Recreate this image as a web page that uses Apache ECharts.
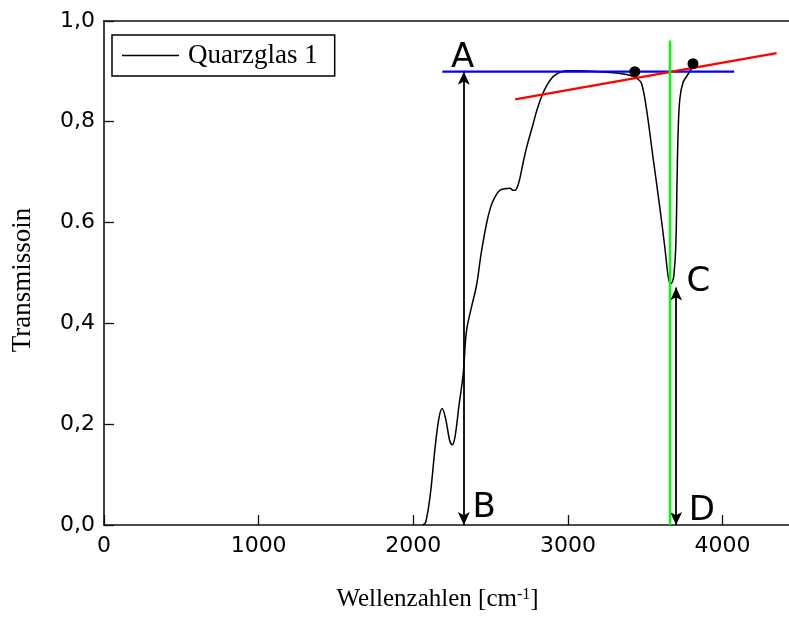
<!DOCTYPE html>
<html>
<head>
<meta charset="utf-8">
<script src="https://cdn.jsdelivr.net/npm/echarts@6/dist/echarts.min.js"></script>
<style>
html,body{margin:0;padding:0;background:#fff;}
#chart{width:789px;height:617px;}
</style>
</head>
<body>
<div id="chart"></div>
<script>
// ---- data ----
const xTickLabels = ['0', '1000', '2000', '3000', '4000'];
const yTickLabels = ['0,0', '0,2', '0,4', '0.6', '0,8', '1,0'];

const wavenumbers = [2060, 2080, 2110, 2140, 2165, 2187, 2210, 2235, 2252, 2270, 2295, 2323, 2344, 2375, 2409, 2440, 2474, 2500, 2527, 2560, 2592, 2625, 2645, 2660, 2675, 2690, 2710, 2730, 2750, 2775, 2797, 2830, 2862, 2895, 2926, 2960, 2991, 3050, 3150, 3250, 3350, 3420, 3450, 3476, 3508, 3551, 3594, 3626, 3648, 3663, 3675, 3685, 3698, 3706, 3713, 3724, 3745, 3777, 3805];
const transmission = [0, 0.005, 0.06, 0.15, 0.21, 0.231, 0.21, 0.168, 0.159, 0.175, 0.235, 0.30, 0.384, 0.43, 0.475, 0.54, 0.598, 0.63, 0.650, 0.664, 0.667, 0.668, 0.664, 0.664, 0.672, 0.688, 0.718, 0.745, 0.768, 0.795, 0.820, 0.85, 0.871, 0.886, 0.894, 0.899, 0.901, 0.901, 0.900, 0.898, 0.895, 0.890, 0.885, 0.876, 0.826, 0.728, 0.631, 0.553, 0.494, 0.478, 0.482, 0.494, 0.553, 0.683, 0.780, 0.845, 0.878, 0.894, 0.908];

const blueX = [2188, 4075];
const blueY = [0.899, 0.899];
const redX = [2659, 4350];
const redY = [0.844, 0.936];
const greenX = [3660, 3660];
const greenY = [0, 0.961];
const dotX = [3433, 3809];
const dotY = [0.899, 0.915];

const arrowABx = 2327, arrowABy = [0, 0.899];
const arrowCDx = 3700, arrowCDy = [0, 0.471];

const letterText = ['A', 'B', 'C', 'D'];
const letterX = [2319, 2458, 3844, 3866];
const letterY = [0.926, 0.034, 0.481, 0.028];

const zip = (a, b) => a.map((v, i) => [v, b[i]]);

const chart = echarts.init(document.getElementById('chart'), null, {renderer: 'canvas'});
const axisColor = '#111';
const option = {
  animation: false,
  grid: {left: 104, right: 0, top: 20.8, bottom: 83.7, containLabel: false},
  legend: {
    left: 112, top: 35,
    data: ['Quarzglas 1'],
    icon: 'rect', itemWidth: 57, itemHeight: 1.3,
    itemStyle: {color: '#000'},
    padding: [7, 17, 7, 10],
    borderColor: '#000', borderWidth: 1.5, borderRadius: 0,
    textStyle: {fontFamily: 'Liberation Serif', fontSize: 27, color: '#000', padding: [0, 0, 0, 4]}
  },
  xAxis: [{
    type: 'value', min: 0, max: 4430, interval: 1000,
    position: 'bottom',
    splitLine: {show: false},
    axisLine: {show: true, lineStyle: {color: axisColor, width: 1.6}},
    axisTick: {show: true, inside: true, length: 10, lineStyle: {color: axisColor, width: 1.3}},
    axisLabel: {
      showMaxLabel: false,
      fontFamily: 'DejaVu Sans', fontSize: 22, color: '#000', margin: 10,
      formatter: v => { const i = Math.round(v / 1000); return (v % 1000 === 0 && xTickLabels[i] !== undefined) ? xTickLabels[i] : ''; }
    },
    name: 'Wellenzahlen [cm{sup|-1}]',
    nameLocation: 'middle', nameGap: 62,
    nameTextStyle: {
      fontFamily: 'Liberation Serif', fontSize: 25, color: '#000',
      padding: [0, 18, 0, 0],
      rich: {sup: {fontFamily: 'Liberation Serif', fontSize: 16, verticalAlign: 'top', lineHeight: 14, color: '#000'}}
    }
  }, {
    type: 'value', min: 0, max: 4430, position: 'top',
    axisLine: {show: true, lineStyle: {color: axisColor, width: 1.6}},
    axisTick: {show: false}, axisLabel: {show: false}, splitLine: {show: false}
  }],
  yAxis: {
    type: 'value', min: 0, max: 1, interval: 0.2,
    splitLine: {show: false},
    axisLine: {show: true, lineStyle: {color: axisColor, width: 1.6}},
    axisTick: {show: true, inside: true, length: 10, lineStyle: {color: axisColor, width: 1.3}},
    axisLabel: {
      fontFamily: 'DejaVu Sans', fontSize: 22, color: '#000', margin: 9,
      formatter: v => yTickLabels[Math.round(v / 0.2)]
    },
    name: 'Transmissoin',
    nameLocation: 'middle', nameGap: 68,
    nameTextStyle: {fontFamily: 'Liberation Serif', fontSize: 27, color: '#000', padding: [0, 14, 0, 0]}
  },
  series: [
    {
      name: 'Quarzglas 1', type: 'line', smooth: 0.35, symbol: 'none',
      data: zip(wavenumbers, transmission),
      lineStyle: {color: '#000', width: 1.5}, itemStyle: {color: '#000'}, z: 2
    },
    {
      name: 'blue', type: 'line', symbol: 'none', data: zip(blueX, blueY),
      lineStyle: {color: '#0000ff', width: 2.2}, z: 3
    },
    {
      name: 'red', type: 'line', symbol: 'none', data: zip(redX, redY),
      lineStyle: {color: '#ff0000', width: 2.2}, z: 4
    },
    {
      name: 'green', type: 'line', symbol: 'none', data: zip(greenX, greenY),
      lineStyle: {color: '#00ff00', width: 2.4}, z: 5
    },
    {
      name: 'arrows', type: 'line', symbol: 'none', data: [], z: 6,
      markLine: {
        silent: true, animation: false,
        symbol: ['arrow', 'arrow'], symbolSize: [9, 13],
        label: {show: false},
        lineStyle: {color: '#000', width: 1.8, type: 'solid', opacity: 1},
        itemStyle: {color: '#000', opacity: 1},
        emphasis: {disabled: true},
        data: [
          [{coord: [arrowABx, arrowABy[0]]}, {coord: [arrowABx, arrowABy[1]]}],
          [{coord: [arrowCDx, arrowCDy[0]]}, {coord: [arrowCDx, arrowCDy[1]]}]
        ]
      }
    },
    {
      name: 'dots', type: 'scatter', symbol: 'circle', symbolSize: 11,
      data: zip(dotX, dotY), itemStyle: {color: '#000', opacity: 1}, z: 7
    },
    {
      name: 'letters', type: 'scatter', symbolSize: 0, z: 8,
      itemStyle: {opacity: 1, color: '#000'},
      data: letterText.map((t, i) => [letterX[i], letterY[i], t]),
      label: {
        show: true, position: 'inside',
        formatter: p => p.value[2],
        fontFamily: 'DejaVu Sans', fontSize: 34, color: '#000', opacity: 1
      }
    }
  ]
};
chart.setOption(option);
</script>
</body>
</html>
